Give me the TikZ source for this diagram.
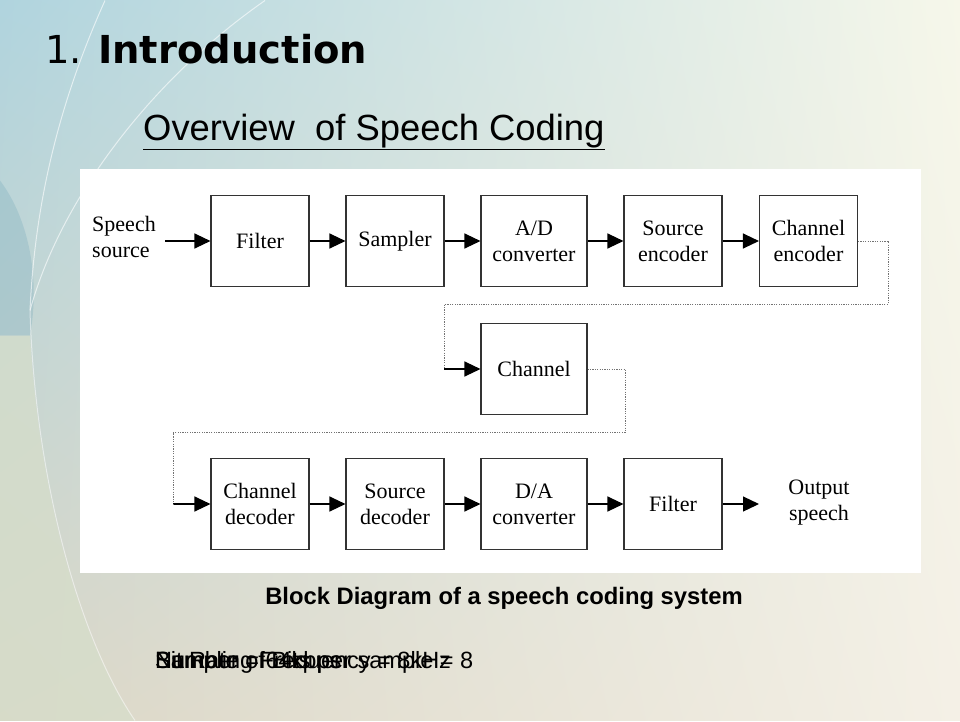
\documentclass[tikz,border=0pt]{standalone}
\usepackage{fontspec}
\setmainfont{Liberation Serif}
\newfontfamily\arialfont{Liberation Sans}
\newfontfamily\titlefont{DejaVu Sans}
\usetikzlibrary{arrows.meta,shadings}

\definecolor{skyblue}{RGB}{176,212,222}
\definecolor{palecream}{RGB}{246,247,234}
\definecolor{sandgrey}{RGB}{218,214,198}
\definecolor{sandlight}{RGB}{244,240,230}
\definecolor{sagegreen}{RGB}{214,222,202}
\definecolor{deepsky}{RGB}{120,170,188}

\begin{document}
\begin{tikzpicture}[x=1pt,y=-1pt,
    block/.style={draw=black!80,line width=1.1pt,fill=white,minimum width=98pt,minimum height=91pt,inner sep=0pt,align=center,font=\fontsize{22}{26}\selectfont},
    wideblock/.style={block,minimum width=106pt},
    arr/.style={-{Triangle[length=16pt,width=15pt]},line width=1.2pt,black},
    dotline/.style={black!55,line width=0.9pt,dash pattern=on 1.2pt off 1.2pt}]
    % slide background
    \shade[upper left=skyblue,upper right=palecream,lower left=sandgrey,lower right=sandlight] (0,0) rectangle (960,720);
    \fill[deepsky,opacity=0.3] (0,180) .. controls (30,220) and (40,280) .. (30,335) -- (0,335) -- cycle;
    \fill[sagegreen,opacity=0.7] (30,335) .. controls (40,500) and (80,640) .. (135,720) -- (0,720) -- (0,335) -- cycle;
    \draw[white,line width=1pt,opacity=0.6] (265,0) .. controls (150,80) and (60,200) .. (30,310);
    \draw[white,line width=1pt,opacity=0.6] (105,0) .. controls (60,100) and (35,200) .. (30,310);
    \draw[white,line width=1pt,opacity=0.5] (30,310) .. controls (35,480) and (80,640) .. (135,720);
    \fill[white] (80,168) rectangle (921,572);
    % headings
    \node[anchor=base west,inner sep=0pt,font=\titlefont\fontsize{38.5}{44}\selectfont] (title) at (45,63) {1. \textbf{Introduction}};
    \node[anchor=base west,inner sep=0pt,font=\arialfont\fontsize{36.4}{40}\selectfont] (subtitle) at (143,140) {\underline{Overview\ \ of Speech Coding}};
    % transmitter
    \node[block] (filtin) at (260,240.5) {Filter};
    \node[block] (sampler) at (395,240.5) {Sampler};
    \node[wideblock] (adconv) at (534,240.5) {A/D\\converter};
    \node[block] (srcenc) at (673,240.5) {Source\\encoder};
    \node[block] (chenc) at (808.5,240.5) {Channel\\encoder};
    % channel
    \node[wideblock] (chan) at (534,368.5) {Channel};
    % receiver
    \node[block] (chdec) at (260,503.5) {Channel\\decoder};
    \node[block] (srcdec) at (395,503.5) {Source\\decoder};
    \node[wideblock] (daconv) at (534,503.5) {D/A\\converter};
    \node[block] (filtout) at (673,503.5) {Filter};
    \node[align=left,inner sep=0pt,font=\fontsize{22}{26}\selectfont] (spsrc) at (124,236) {Speech\\source};
    \node[align=center,inner sep=0pt,font=\fontsize{22}{26}\selectfont] (outsp) at (819,502) {Output\\speech};
    \coordinate (spin) at (165,240.5);
    \coordinate (encright) at (888,304);
    \coordinate (encleft) at (444,304);
    \coordinate (chanin) at (444,368.5);
    \coordinate (chanright) at (625,432);
    \coordinate (decleft) at (173,432);
    \coordinate (decin) at (173,503.5);
    \coordinate (spout) at (759,503.5);
    % solid arrows
    \draw[arr] (spin) -- (filtin);
    \draw[arr] (filtin) -- (sampler);
    \draw[arr] (sampler) -- (adconv);
    \draw[arr] (adconv) -- (srcenc);
    \draw[arr] (srcenc) -- (chenc);
    \draw[arr] (chanin) -- (chan);
    \draw[arr] (decin) -- (chdec);
    \draw[arr] (chdec) -- (srcdec);
    \draw[arr] (srcdec) -- (daconv);
    \draw[arr] (daconv) -- (filtout);
    \draw[arr] (filtout) -- (spout);
    % dotted links through the channel
    \draw[dotline] (chenc.east) -| (encright) -- (encleft) -- (chanin);
    \draw[dotline] (chan.east) -| (chanright) -- (decleft) -- (decin);
    % captions
    \node[anchor=base,inner sep=0pt,font=\arialfont\bfseries\fontsize{23.8}{26}\selectfont] (caption) at (504,604) {Block Diagram of a speech coding system};
    \node[anchor=base west,inner sep=0pt,font=\arialfont\fontsize{23.5}{26}\selectfont] (numbits) at (155,668) {Number of Bits per sample = 8};
    \node[anchor=base west,inner sep=0pt,font=\arialfont\fontsize{23.5}{26}\selectfont] (samprate) at (155,668) {Sampling Frequency = 8kHz};
    \node[anchor=base west,inner sep=0pt,font=\arialfont\fontsize{23.5}{26}\selectfont] (bitrate) at (155,668) {Bit Rate = 64kbps};
\end{tikzpicture}
\end{document}
